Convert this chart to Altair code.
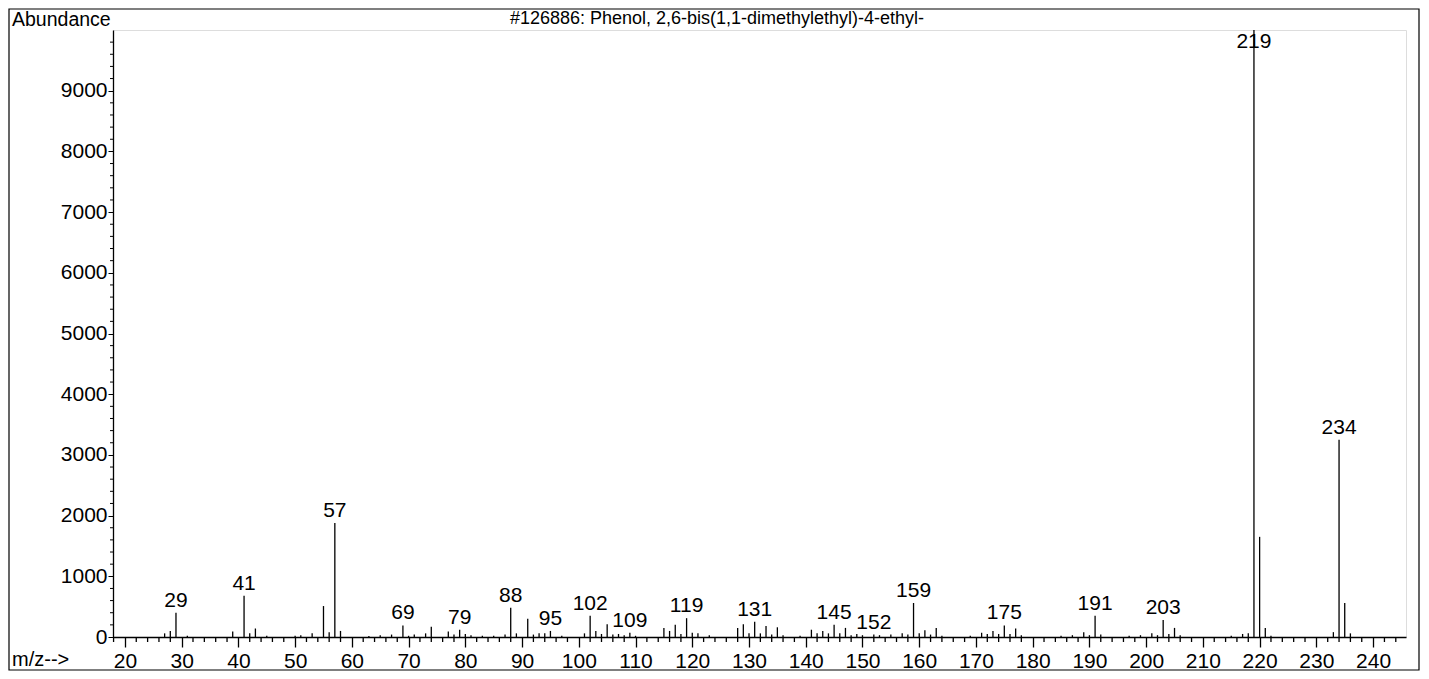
import altair as alt
import pandas as pd

# ---- data ----
mz = [27, 28, 29, 31, 39, 41, 42, 43, 45, 50, 51, 53, 55, 56, 57, 58, 63, 65, 67, 69,
      70, 71, 73, 74, 77, 78, 79, 80, 81, 83, 85, 87, 88, 89, 91, 92, 93, 94, 95, 97,
      101, 102, 103, 104, 105, 106, 107, 108, 109, 110, 115, 116, 117, 118, 119, 120,
      121, 123, 128, 129, 130, 131, 132, 133, 134, 135, 136, 139, 141, 142, 143, 144,
      145, 146, 147, 148, 149, 150, 152, 153, 155, 157, 158, 159, 160, 161, 162, 163,
      164, 169, 171, 172, 173, 174, 175, 176, 177, 178, 185, 187, 189, 190, 191, 192,
      197, 199, 201, 202, 203, 204, 205, 206, 215, 217, 218, 219, 220, 221, 222, 233,
      234, 235, 236]
abundance = [60, 100, 400, 20, 90, 680, 60, 140, 20, 20, 30, 60, 510, 80, 1880, 100, 15, 30, 40, 190,
             20, 40, 60, 170, 90, 40, 120, 50, 30, 20, 20, 40, 480, 60, 300, 40, 60, 60, 100, 20,
             60, 350, 100, 50, 210, 40, 50, 30, 70, 20, 150, 100, 200, 50, 310, 70,
             60, 30, 150, 210, 60, 250, 60, 180, 40, 160, 30, 20, 120, 60, 100, 60,
             200, 60, 150, 30, 50, 30, 40, 30, 40, 60, 40, 560, 60, 110, 40, 150,
             20, 20, 70, 50, 100, 50, 190, 50, 140, 30, 20, 30, 80, 30, 350, 40,
             20, 30, 60, 30, 280, 50, 150, 30, 20, 50, 60, 10000, 1650, 150, 20, 80,
             3250, 560, 60]
labeled = [29, 41, 57, 69, 79, 88, 95, 102, 109, 119, 131, 145, 152, 159, 175, 191,
           203, 219, 234]
x_major = list(range(20, 241, 10))
x_minor = [v for v in range(18, 246, 2) if v % 10 != 0]
y_major = list(range(0, 9001, 1000))
y_minor = [v for v in range(0, 10001, 200) if v % 1000 != 0]
title_text = "#126886: Phenol, 2,6-bis(1,1-dimethylethyl)-4-ethyl-"
y_title = "Abundance"
x_title = "m/z-->"

df = pd.DataFrame({"mz": mz, "abundance": abundance})
df["label"] = [str(m) if m in labeled else "" for m in mz]

FONT = "Liberation Sans"
W, H = 1293, 607
PAD_L, PAD_T, PAD_R, PAD_B = 105, 22, 15, 34

x_scale = alt.Scale(domain=[17.9, 245.8], nice=False, zero=False)
y_scale = alt.Scale(domain=[0, 10000], nice=False)

x_axis = alt.Axis(
    values=x_major, format="d",
    tickSize=10, tickColor="black", tickWidth=1.3,
    domainColor="black", domainWidth=1.3,
    labelFont=FONT, labelFontSize=21, labelColor="black",
    labelPadding=3, labelFlush=False, labelOverlap=False,
    grid=False, title=None,
)
y_axis = alt.Axis(
    values=y_major, format="d",
    tickSize=5, tickColor="black", tickWidth=1,
    domainColor="black", domainWidth=1.3,
    labelFont=FONT, labelFontSize=21, labelColor="black",
    labelPadding=1, labelOverlap=False, labelFlush=False,
    grid=False, title=None,
)

base = alt.Chart(df)

bars = base.mark_rule(color="black", strokeWidth=1.3).encode(
    x=alt.X("mz:Q", scale=x_scale, axis=x_axis),
    y=alt.Y("abundance:Q", scale=y_scale, axis=y_axis),
    y2=alt.datum(0),
)

labels = base.transform_filter("datum.label != ''").transform_calculate(
    ly="min(datum.abundance, 9600)"
).mark_text(font=FONT, fontSize=21, color="black", baseline="middle", align="center", dy=-12).encode(
    x=alt.X("mz:Q", scale=x_scale, axis=x_axis),
    y=alt.Y("ly:Q", scale=y_scale, axis=y_axis),
    text="label:N",
)

x_minor_ticks = alt.Chart(pd.DataFrame({"v": x_minor})).mark_rule(
    color="black", strokeWidth=1.3, clip=False
).encode(
    x=alt.X("v:Q", scale=x_scale, axis=x_axis),
    y=alt.value(H), y2=alt.value(H + 5),
)
y_minor_ticks = alt.Chart(pd.DataFrame({"v": y_minor})).mark_rule(
    color="black", strokeWidth=1, clip=False
).encode(
    y=alt.Y("v:Q", scale=y_scale, axis=y_axis),
    x=alt.value(-3), x2=alt.value(0),
)

frame = alt.Chart(pd.DataFrame({"k": [0]})).mark_rect(
    fill=None, stroke="black", strokeWidth=1.2, clip=False
).encode(
    x=alt.value(-PAD_L + 1), x2=alt.value(W + PAD_R - 2),
    y=alt.value(-PAD_T + 1), y2=alt.value(H + PAD_B - 1),
)

t_abund = alt.Chart(pd.DataFrame({"t": [y_title]})).mark_text(
    font=FONT, fontSize=19.5, color="black", align="left", baseline="middle"
).encode(x=alt.value(-PAD_L + 4), y=alt.value(-10), text="t:N")
t_title = alt.Chart(pd.DataFrame({"t": [title_text]})).mark_text(
    font=FONT, fontSize=18, color="black", align="center", baseline="middle"
).encode(x=alt.value(604), y=alt.value(-11), text="t:N")
t_mz = alt.Chart(pd.DataFrame({"t": [x_title]})).mark_text(
    font=FONT, fontSize=20, color="black", align="left", baseline="middle"
).encode(x=alt.value(-PAD_L + 4), y=alt.value(630), text="t:N")

chart = alt.layer(bars, labels, x_minor_ticks, y_minor_ticks, frame, t_abund, t_title, t_mz).properties(
    width=W, height=H,
    autosize=alt.AutoSizeParams(type="none"),
    padding={"left": PAD_L, "top": PAD_T, "right": PAD_R, "bottom": PAD_B},
).configure_view(stroke=None).configure(background="white")

chart.save("out.html", embed_options={"renderer": "svg", "actions": False})
